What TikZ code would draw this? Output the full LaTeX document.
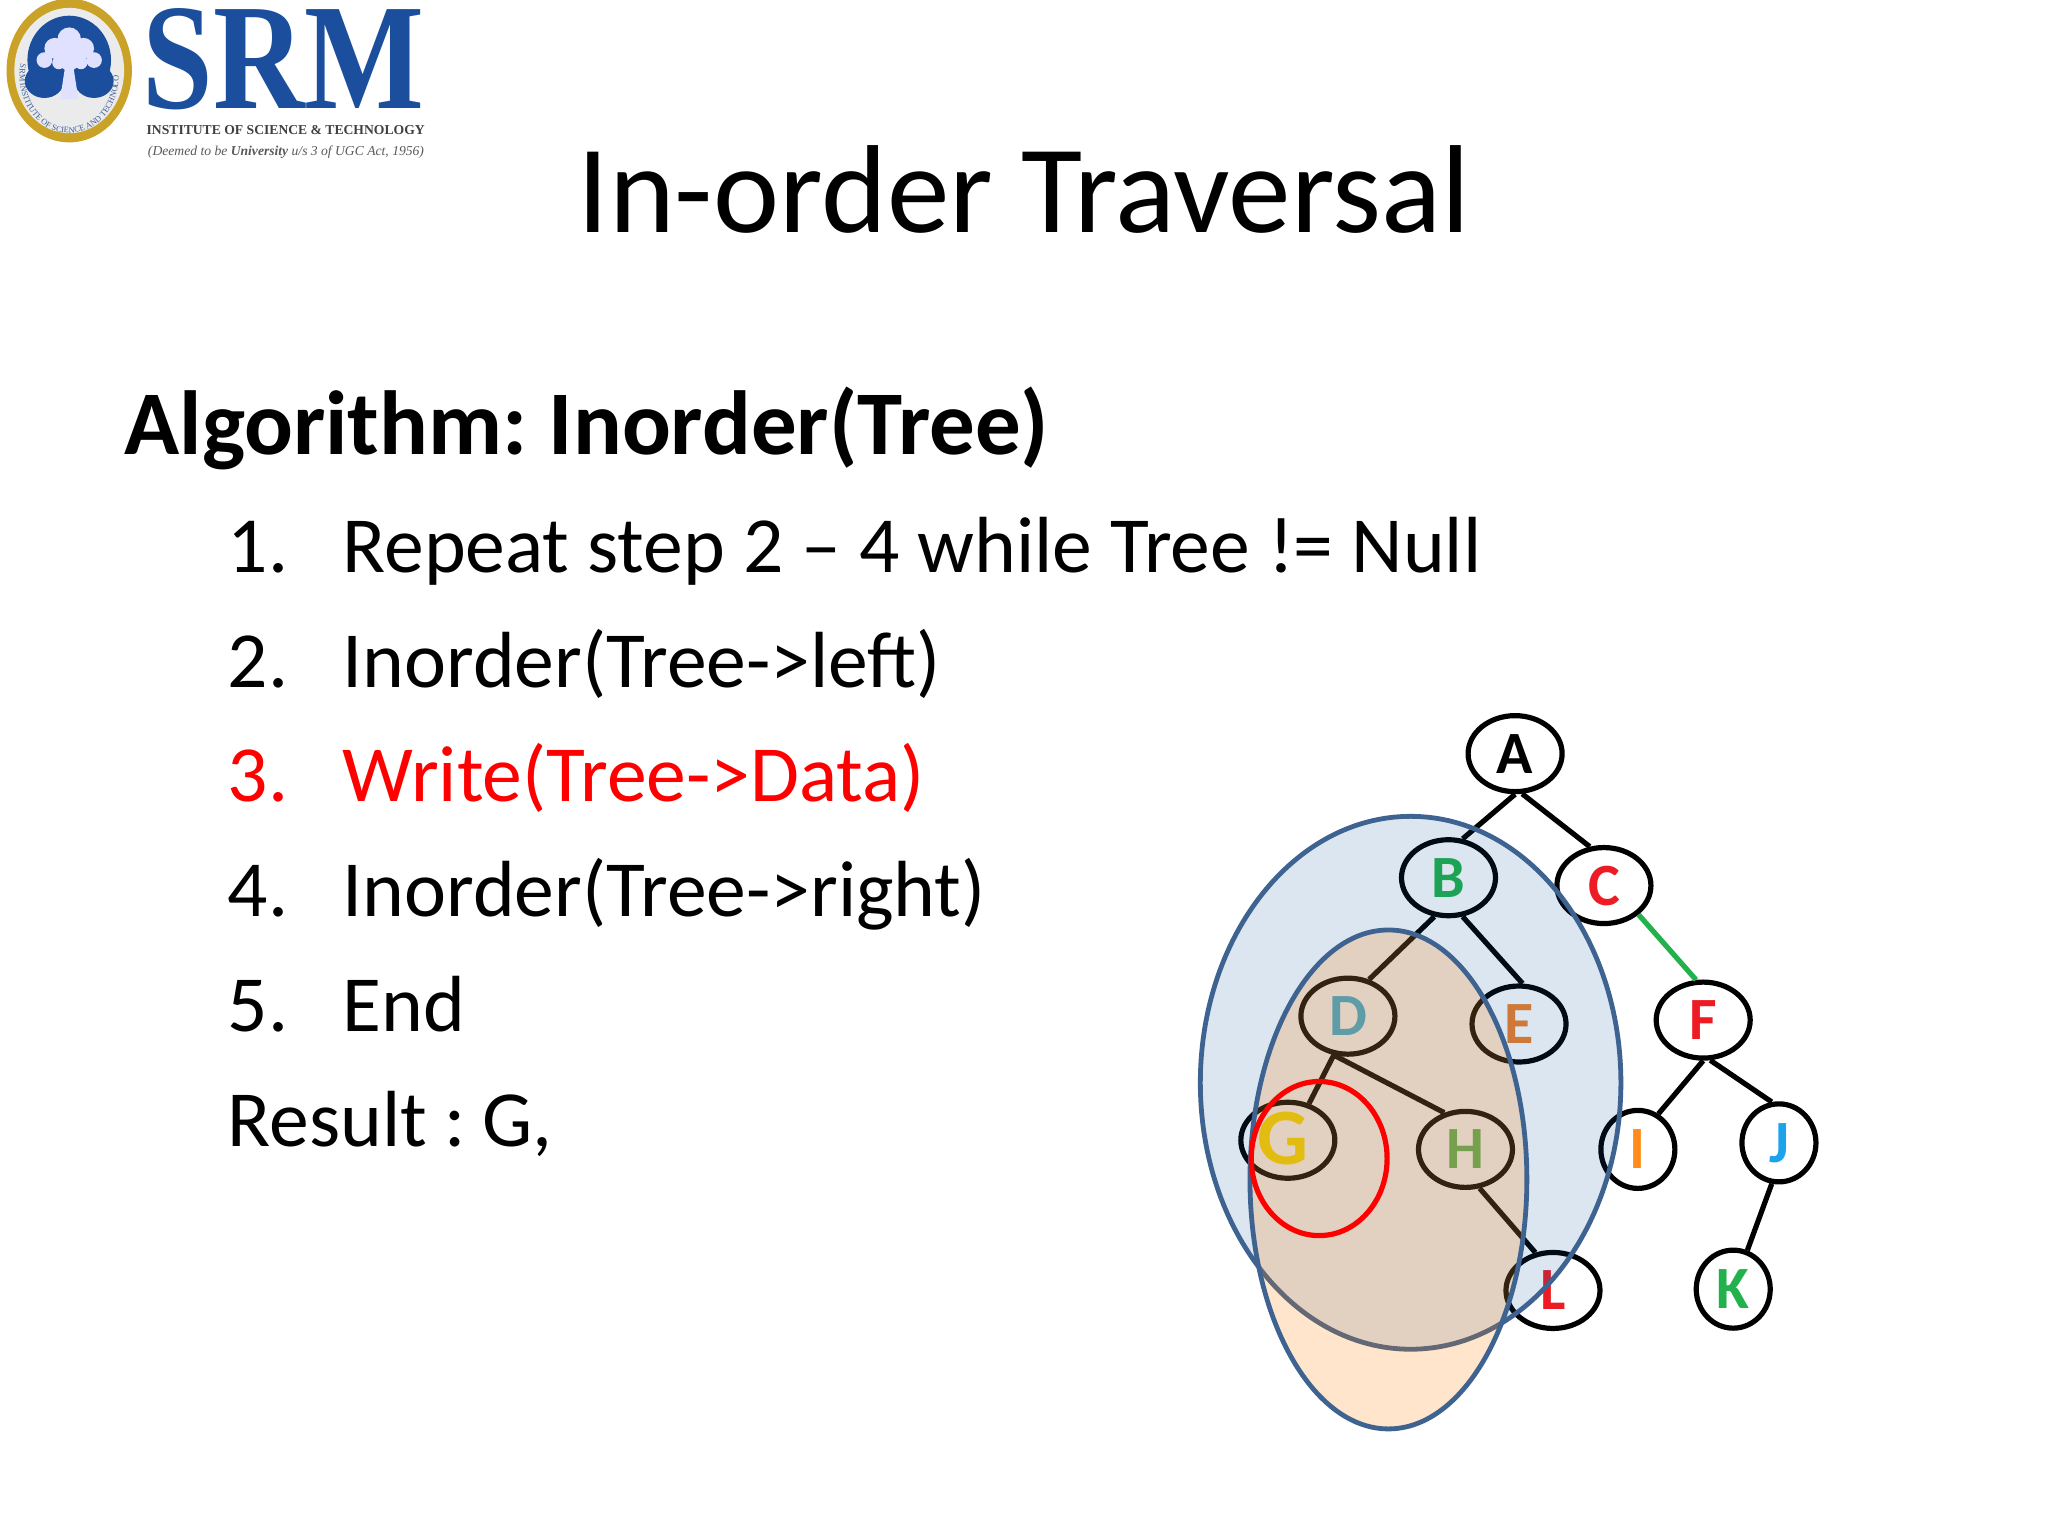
\documentclass[tikz,border=0pt]{standalone}
\usepackage{fontspec}
\usepackage{graphicx}
\usetikzlibrary{shapes.geometric,decorations.text}
\setmainfont{Carlito}
\newfontfamily\logofont{Liberation Serif}
\definecolor{srmblue}{HTML}{1B4F9E}
\definecolor{sealgold}{HTML}{C9A227}
\definecolor{ellline}{HTML}{3E6391}
\definecolor{lgreen}{HTML}{22B14C}
\definecolor{lred}{HTML}{ED1C24}
\definecolor{lteal}{HTML}{3FB0DC}
\definecolor{lorange}{HTML}{F0802A}
\definecolor{lyellow}{HTML}{FFE000}
\definecolor{lsage}{HTML}{62B85A}
\definecolor{lamber}{HTML}{FF8C1A}
\definecolor{lsky}{HTML}{1CA3EC}
\tikzset{
  treenode/.style={ellipse,draw=black,line width=2.6pt,fill=white,inner sep=0pt,minimum width=47pt,minimum height=38pt,font=\fontsize{30}{30}\selectfont\bfseries},
  roundnode/.style={treenode,minimum width=37pt,minimum height=39pt},
  treeedge/.style={line width=2.6pt,draw=black},
  bodytext/.style={anchor=base west,font=\fontsize{39.8}{39.8}\selectfont,inner sep=0pt},
}
\begin{document}
\begin{tikzpicture}[x=0.653pt,y=-0.653pt]
\useasboundingbox (0,0) rectangle (1568,1176);
\fill[white] (0,0) rectangle (1568,1176);
% logo seal
\fill[sealgold] (53,54) ellipse (48 and 55);
\fill[white!92!black] (53,54) ellipse (42 and 48);
\begin{scope}
\clip (53,54) ellipse (36 and 42);
\fill[srmblue] (53,46) ellipse (32 and 34);
\fill[white!92!black] (18,66) rectangle (88,100);
\fill[srmblue] (34,62) ellipse (15 and 13);
\fill[srmblue] (72,62) ellipse (15 and 13);
\end{scope}
\fill[white!88!blue] (50,50) -- (46,76) -- (60,76) -- (56,50) -- cycle;
\foreach \cx/\cy/\r in {53/30/9,42/37/8,64/37/8,34/46/6,72/46/6,53/45/9,45/48/5,62/48/5}
  \fill[white!88!blue] (\cx,\cy) circle (\r);
\path[decorate,decoration={text along path,text align=center,text={|\fontsize{4.2}{4.2}\selectfont\logofont\color{srmblue!70!gray}|SRM INSTITUTE OF SCIENCE AND TECHNOLOGY}}]
  (15,58) arc[start angle=180,end angle=0,x radius=38,y radius=44];
% logo text
\node[inner sep=0pt,anchor=base west,text=srmblue] (srm) at (109,83) {\resizebox{141pt}{50pt}{\logofont\bfseries SRM}};
\node[inner sep=0pt,anchor=base west,text=black!75] (inst) at (112,103) {\resizebox{139pt}{!}{\logofont\bfseries INSTITUTE OF SCIENCE \& TECHNOLOGY}};
\node[inner sep=0pt,anchor=base west,text=black!65] (deem) at (113,119) {\resizebox{138pt}{!}{\logofont\itshape (Deemed to be \textbf{University} u/s 3 of UGC Act, 1956)}};
% title
\node[inner sep=0pt,anchor=base,font=\fontsize{62.6}{62.6}\selectfont] (title) at (784,178) {In-order Traversal};
% body
\node[inner sep=0pt,anchor=base west,font=\fontsize{45.5}{45.5}\selectfont\bfseries] (algo) at (95,348) {Algorithm:\kern-3pt{} Inorder(Tree)};
\node[bodytext] (n1) at (174,438) {1.};
\node[bodytext] (t1) at (262,438) {Repeat step 2 – 4 while Tree != Null};
\node[bodytext] (n2) at (174,526) {2.};
\node[bodytext] (t2) at (262,526) {Inorder(Tree->left)};
\node[bodytext,text=red] (n3) at (174,614) {3.};
\node[bodytext,text=red] (t3) at (262,614) {Write(Tree->Data)};
\node[bodytext] (n4) at (174,702) {4.};
\node[bodytext] (t4) at (262,702) {Inorder(Tree->right)};
\node[bodytext] (n5) at (174,790) {5.};
\node[bodytext] (t5) at (262,790) {End};
\node[bodytext] (res) at (174,878) {Result :\kern-4pt{} G,};
% tree
\node[treenode] (A) at (1160,577) {A};
\node[treenode,text=lgreen] (B) at (1109,672) {B};
\node[treenode,text=lred] (C) at (1228,678) {C};
\node[treenode,text=lteal] (D) at (1032,778) {D};
\node[treenode,text=lorange] (E) at (1163,784) {E};
\node[treenode,text=lred] (F) at (1304,781) {F};
\node[treenode,text=lyellow,font=\fontsize{40}{40}\selectfont\bfseries,text height=24pt,text depth=0pt] (G) at (986,873) {\kern-5pt G};
\node[treenode,text=lsage] (H) at (1122,880) {H};
\node[roundnode,text=lamber] (I) at (1254,880) {I};
\node[roundnode,text=lsky] (J) at (1362,875) {J};
\node[roundnode,text=lgreen] (K) at (1327,987) {K};
\node[treenode,text=lred] (L) at (1189,988) {L};
\draw[treeedge] (A.south) -- (B.70);
\draw[treeedge] (A.-80) -- (C.110);
\draw[treeedge] (B.-110) -- (D.60);
\draw[treeedge] (B.-70) -- (E.85);
\draw[line width=2.6pt,draw=lgreen] (C.-40) -- (F.100);
\draw[treeedge] (D.-110) -- (G.60);
\draw[treeedge] (D.-110) -- (H.120);
\draw[treeedge] (H.-70) -- (L.115);
\draw[treeedge] (F.-90) -- (I.60);
\draw[treeedge] (F.-80) -- (J.100);
\draw[treeedge] (J.-100) -- (K.70);
% overlays
\draw[ellline,line width=2.4pt,fill=blue!45!cyan!60!black,fill opacity=0.14] (1080,829) ellipse (161 and 204);
\draw[ellline,line width=2.4pt,fill=orange,fill opacity=0.2] (1063,903) ellipse (106 and 191);
\draw[red,line width=2.6pt] (1010,887) ellipse (52 and 59);
\end{tikzpicture}
\end{document}
